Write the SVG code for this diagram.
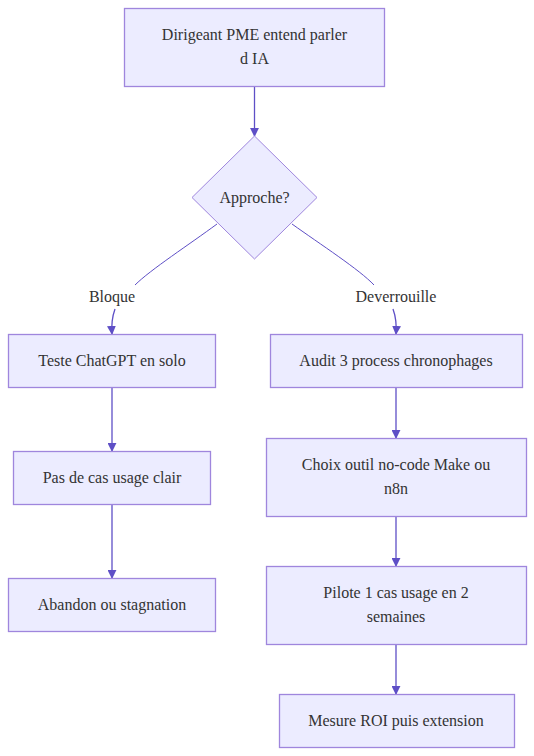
<svg xmlns="http://www.w3.org/2000/svg" width="534" height="756" viewBox="0 0 534 756">
<style>
.node rect, .node polygon { fill: #ECECFF; stroke: #9F86DD; stroke-width: 1.3; }
text { font-family: "Liberation Serif", "Times New Roman", serif; font-size: 16px; fill: #333333; text-anchor: middle; dominant-baseline: central; }
.edge { fill: none; stroke: #5E4FC6; stroke-width: 1.3; }
.thin { stroke-width: 1; }
</style>
<defs>
<marker id="arrow" viewBox="0 0 10 10" refX="9" refY="5" markerUnits="userSpaceOnUse" markerWidth="9" markerHeight="9" orient="auto">
<path d="M0,0 L10,5 L0,10 z" fill="#5E4FC6"/>
</marker>
</defs>
<rect width="534" height="756" fill="#ffffff"/>
<g id="connectors">
<path class="edge" d="M254.5,86 L254.5,136" marker-end="url(#arrow)"/>
<path class="edge thin" d="M217,224 C190,244 150,270 135,285" />
<path class="edge" d="M115,309 Q111,320 112,334" marker-end="url(#arrow)"/>
<path class="edge thin" d="M292,224 C320,244 360,270 374,285" />
<path class="edge" d="M393,309 Q397,320 396,334" marker-end="url(#arrow)"/>
<path class="edge" d="M112,388 L112,451" marker-end="url(#arrow)"/>
<path class="edge" d="M112,504 L112,578" marker-end="url(#arrow)"/>
<path class="edge" d="M396,388 L396,438" marker-end="url(#arrow)"/>
<path class="edge" d="M396,516 L396,566" marker-end="url(#arrow)"/>
<path class="edge" d="M396,644 L396,694" marker-end="url(#arrow)"/>
<text x="112" y="296">Bloque</text>
<text x="396" y="296">Deverrouille</text>
</g>
<g id="n1" class="node">
<rect x="124.5" y="8.5" width="260" height="78"/>
<text x="254.5" y="34">Dirigeant PME entend parler</text>
<text x="254.5" y="58">d IA</text>
</g>
<g id="n2" class="node">
<polygon points="254.5,136 317,197.5 254.5,259 192,197.5" style="stroke-width:1"/>
<text x="254.5" y="197">Approche?</text>
</g>
<g id="n3" class="node">
<rect x="8.5" y="334.5" width="207" height="53"/>
<text x="112" y="360">Teste ChatGPT en solo</text>
</g>
<g id="n4" class="node">
<rect x="13.5" y="451.5" width="197" height="53"/>
<text x="112" y="477">Pas de cas usage clair</text>
</g>
<g id="n5" class="node">
<rect x="8.5" y="578.5" width="207" height="53"/>
<text x="112" y="604">Abandon ou stagnation</text>
</g>
<g id="n6" class="node">
<rect x="270.5" y="334.5" width="252" height="53"/>
<text x="396" y="360">Audit 3 process chronophages</text>
</g>
<g id="n7" class="node">
<rect x="266.5" y="438.5" width="260" height="78"/>
<text x="396" y="464">Choix outil no-code Make ou</text>
<text x="396" y="488">n8n</text>
</g>
<g id="n8" class="node">
<rect x="266.5" y="566.5" width="260" height="78"/>
<text x="396" y="592">Pilote 1 cas usage en 2</text>
<text x="396" y="616">semaines</text>
</g>
<g id="n9" class="node">
<rect x="279.5" y="694.5" width="235" height="53"/>
<text x="396" y="720">Mesure ROI puis extension</text>
</g>
</svg>
